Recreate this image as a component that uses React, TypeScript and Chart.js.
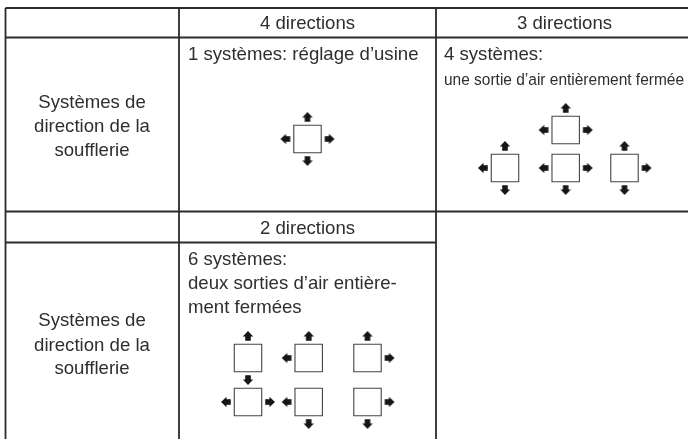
import React, { useEffect, useRef } from "react";
import { Chart, registerables } from "chart.js";

Chart.register(...registerables);

const W = 688;
const H = 439;

// table rules: [x1, y1, x2, y2] in scale units
const ruleX1 = [5.5, 5.5, 5.5, 5.5, 5.5, 179, 436];
const ruleY1 = [8, 37.5, 211.5, 242.5, 8, 8, 8];
const ruleX2 = [688, 688, 688, 436, 5.5, 179, 436];
const ruleY2 = [8, 37.5, 211.5, 242.5, 439, 439, 439];

// outlet boxes and which arrows each one has
const boxX = [307.5, 565.7, 505, 565.7, 624.5, 248, 308.7, 367.5, 248, 308.7, 367.5];
const boxY = [139, 130, 168, 168, 168, 358, 358, 358, 402, 402, 402];
const boxDirs = ["ULRD", "ULR", "ULD", "LRD", "URD", "UD", "UL", "UR", "LR", "LD", "RD"];

// text
const texts = [
  "4 directions",
  "3 directions",
  "2 directions",
  "1 systèmes: réglage d’usine",
  "4 systèmes:",
  "une sortie d’air entièrement fermée",
  "6 systèmes:",
  "deux sorties d’air entière-",
  "ment fermées",
  "Systèmes de",
  "direction de la",
  "soufflerie",
  "Systèmes de",
  "direction de la",
  "soufflerie",
];
const textX = [307.5, 564.5, 307.5, 188, 444, 444, 188, 188, 188, 92, 92, 92, 92, 92, 92];
const textY = [29, 29, 234, 60, 60, 85, 265, 289, 313, 107.5, 132, 155.5, 325.5, 350.5, 373.5];
const textAlign = ["center", "center", "center", "left", "left", "left", "left", "left", "left", "center", "center", "center", "center", "center", "center"];

const INK = "#2b2b2b";
const ARROW_OFFSET = 22;

function makeArrow(): HTMLCanvasElement {
  const c = document.createElement("canvas");
  c.width = 12;
  c.height = 12;
  const g = c.getContext("2d")!;
  g.fillStyle = "#161616";
  g.beginPath();
  // arrow pointing up
  g.moveTo(6, 1);
  g.lineTo(11.2, 6.4);
  g.lineTo(8.8, 6.4);
  g.lineTo(8.8, 10.8);
  g.lineTo(3.2, 10.8);
  g.lineTo(3.2, 6.4);
  g.lineTo(0.8, 6.4);
  g.closePath();
  g.fill();
  return c;
}

const dirs: Record<string, { dx: number; dy: number; rotation: number }> = {
  U: { dx: 0, dy: -1, rotation: 0 },
  R: { dx: 1, dy: 0, rotation: 90 },
  D: { dx: 0, dy: 1, rotation: 180 },
  L: { dx: -1, dy: 0, rotation: 270 },
};

const textPlugin = {
  id: "tableText",
  afterDatasetsDraw(chart: any) {
    const { ctx, scales } = chart;
    ctx.save();
    ctx.fillStyle = "#2e2e2e";
    ctx.textBaseline = "alphabetic";
    texts.forEach((t, i) => {
      const condensed = i === 5;
      ctx.font = condensed ? "16.7px 'Liberation Sans'" : "18.6px 'Liberation Sans'";
      ctx.textAlign = textAlign[i];
      const px = scales.x.getPixelForValue(textX[i]);
      const py = scales.y.getPixelForValue(textY[i]);
      if (condensed) ctx.fillText(t, px, py, 240);
      else ctx.fillText(t, px, py);
    });
    ctx.restore();
  },
};

export default function App() {
  const ref = useRef<HTMLCanvasElement>(null);
  useEffect(() => {
    const arrow = makeArrow();
    const ruleSets = ruleX1.map((x1, i) => ({
      type: "line" as const,
      data: [
        { x: x1, y: ruleY1[i] },
        { x: ruleX2[i], y: ruleY2[i] },
      ],
      borderColor: INK,
      borderWidth: 1.8,
      pointRadius: 0,
      showLine: true,
      order: 3,
    }));
    const boxSet = {
      type: "scatter" as const,
      data: boxX.map((x, i) => ({ x, y: boxY[i] })),
      pointStyle: "rect",
      pointRadius: 19.4,
      pointBorderWidth: 1.1,
      pointBorderColor: "#444444",
      pointBackgroundColor: "#ffffff",
      order: 2,
    };
    const arrowSets = Object.keys(dirs).map((k) => {
      const d = dirs[k];
      const pts: { x: number; y: number }[] = [];
      boxX.forEach((x, i) => {
        if (boxDirs[i].includes(k)) pts.push({ x: x + d.dx * ARROW_OFFSET, y: boxY[i] + d.dy * ARROW_OFFSET });
      });
      return {
        type: "scatter" as const,
        data: pts,
        pointStyle: arrow,
        rotation: d.rotation,
        pointRadius: 6,
        order: 1,
      };
    });
    const chart = new Chart(ref.current!, {
      type: "scatter",
      data: { datasets: [...ruleSets, boxSet, ...arrowSets] as any },
      options: {
        responsive: false,
        animation: false,
        layout: { padding: 0, autoPadding: false },
        plugins: { legend: { display: false }, tooltip: { enabled: false }, title: { display: false } },
        scales: {
          x: { type: "linear", min: 0, max: W, display: false },
          y: { type: "linear", min: 0, max: H, reverse: true, display: false },
        },
        clip: false,
      } as any,
      plugins: [textPlugin],
    });
    return () => chart.destroy();
  }, []);
  return (
    <canvas
      ref={ref}
      width={W}
      height={H}
      style={{ position: "fixed", left: 0, top: 0, width: W, height: H, display: "block", background: "#fff" }}
    />
  );
}
